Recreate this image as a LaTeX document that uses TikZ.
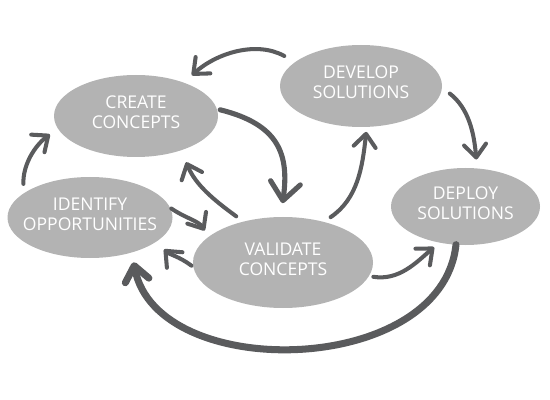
\documentclass[tikz,border=0pt]{standalone}
\usepackage{fontspec}
\setmainfont{Open Sans}
\usepackage{xcolor}
\usetikzlibrary{arrows.meta,shapes.geometric}
\definecolor{blobgray}{HTML}{B3B3B3}
\definecolor{arrowgray}{HTML}{5A5B5D}

\begin{document}
\begin{tikzpicture}[
    >={Straight Barb[length=2.6mm,width=4.4mm,round]},
    font=\fontsize{10}{11.4}\selectfont,
    blob/.style={
        ellipse,
        fill=blobgray,
        inner sep=0pt,
        outer sep=0pt
    },
    txt/.style={
        text=white,
        align=center,
        inner sep=0pt,
        yshift=0.07cm
    },
    arr/.style={->, draw=arrowgray, line width=2.3pt, line cap=round},
    bigarr/.style={arr, line width=2.9pt,
        -{Straight Barb[length=3.6mm,width=6mm,round]}}
]

\useasboundingbox (0,0) rectangle (11,-8);

% stages
\node[blob, minimum width=3.28cm, minimum height=1.64cm,
      label={[txt]center:CREATE\\CONCEPTS}] (create) at (2.72,-2.32) {};

\node[blob, minimum width=3.30cm, minimum height=1.62cm,
      label={[txt]center:IDENTIFY\\OPPORTUNITIES}] (identify) at (1.80,-4.35) {};

\node[blob, minimum width=3.60cm, minimum height=1.82cm,
      label={[txt]center:VALIDATE\\CONCEPTS}] (validate) at (5.66,-5.25) {};

\node[blob, minimum width=3.24cm, minimum height=1.64cm,
      label={[txt]center:DEVELOP\\SOLUTIONS}] (develop) at (7.22,-1.72) {};

\node[blob, minimum width=2.98cm, minimum height=1.54cm,
      label={[txt]center:DEPLOY\\SOLUTIONS}] (deploy) at (9.31,-4.13) {};

% loops between stages
\draw[arr, shorten <=2.5mm, shorten >=2.2mm]
    (develop.160) to[out=151,in=42] (create.35);
\draw[bigarr, shorten <=0.7mm, shorten >=2.8mm]
    (create.5) to[out=-14,in=82,looseness=1.3] (validate.93);
\draw[arr, shorten <=1.8mm, shorten >=2.6mm]
    (validate.134) to[out=144,in=-68] (create.-37);
\draw[arr, shorten <=1.7mm, shorten >=1mm]
    (validate.45) to[out=34,in=-96] (develop.-82);
\draw[arr, shorten <=2mm, shorten >=1.8mm]
    (develop.-1) to[out=-38,in=95] (deploy.73);
\draw[arr, shorten <=1.9mm, shorten >=2mm]
    (identify.160) to[out=92,in=217] (create.189);
\draw[arr, shorten <=0.3mm, shorten >=1.5mm]
    (identify.7) to[out=-34,in=122] (validate.161);
\draw[arr, shorten <=0.5mm, shorten >=2.2mm]
    (validate.183) to[out=143,in=-45] (identify.-20);
\draw[arr, shorten <=0.9mm, shorten >=1.4mm]
    (validate.-9) to[out=-9,in=221] (deploy.234);

% back to the start
\draw[arr, line width=4pt, shorten >=2mm,
      -{Straight Barb[length=3mm,width=4.8mm,round]}]
    (deploy.256) to[out=264,in=281,looseness=1.05] (identify.-40);

\end{tikzpicture}
\end{document}
